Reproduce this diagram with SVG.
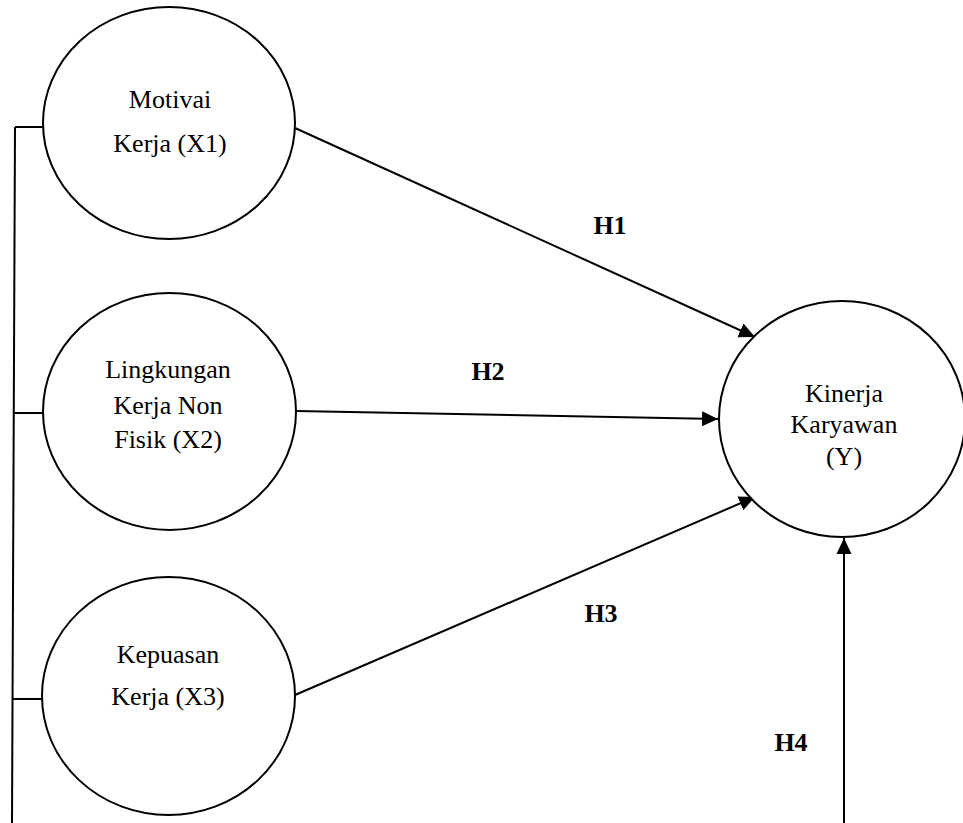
<svg xmlns="http://www.w3.org/2000/svg" width="963" height="823" viewBox="0 0 963 823">
<style>
.node ellipse{fill:#fff;stroke:#000;stroke-width:2}
.node text{font-family:"Liberation Serif","Times New Roman",serif;font-size:26px;text-anchor:middle;fill:#000}
.conn line{stroke:#000;stroke-width:2;fill:none}
.lbl{font-family:"Liberation Serif","Times New Roman",serif;font-size:26px;font-weight:bold;text-anchor:middle;fill:#000}
</style>
<defs>
<marker id="ah" markerUnits="userSpaceOnUse" markerWidth="18" markerHeight="16" refX="16" refY="8" orient="auto">
<path d="M0,0.5 L16,8 L0,15.5 Z" fill="#000"/>
</marker>
</defs>
<rect width="963" height="823" fill="#fff"/>
<g id="connectors" class="conn">
<line x1="15" y1="127" x2="12" y2="823"/>
<line x1="15" y1="127" x2="43" y2="127"/>
<line x1="14" y1="413" x2="43" y2="413"/>
<line x1="13" y1="699" x2="42" y2="699"/>
<line x1="295" y1="128" x2="755" y2="337" marker-end="url(#ah)"/>
<line x1="296" y1="411" x2="718" y2="419" marker-end="url(#ah)"/>
<line x1="295" y1="695" x2="755" y2="497" marker-end="url(#ah)"/>
<line x1="844" y1="823" x2="844" y2="538" marker-end="url(#ah)"/>
</g>
<g id="x1" class="node">
<ellipse cx="169" cy="123" rx="126" ry="116"/>
<text x="170" y="108">Motivai</text>
<text x="170" y="152">Kerja (X1)</text>
</g>
<g id="x2" class="node">
<ellipse cx="169.5" cy="411.5" rx="126.5" ry="118.5"/>
<text x="168" y="378">Lingkungan</text>
<text x="168" y="414">Kerja Non</text>
<text x="168" y="448">Fisik (X2)</text>
</g>
<g id="x3" class="node">
<ellipse cx="168.5" cy="696" rx="126.5" ry="119"/>
<text x="168" y="663">Kepuasan</text>
<text x="168" y="705">Kerja (X3)</text>
</g>
<g id="y" class="node">
<ellipse cx="842" cy="419" rx="123" ry="118"/>
<text x="844" y="402">Kinerja</text>
<text x="844" y="433">Karyawan</text>
<text x="844" y="465">(Y)</text>
</g>
<g id="labels">
<text class="lbl" x="610" y="234">H1</text>
<text class="lbl" x="488" y="380">H2</text>
<text class="lbl" x="601" y="622">H3</text>
<text class="lbl" x="791" y="751">H4</text>
</g>
</svg>
